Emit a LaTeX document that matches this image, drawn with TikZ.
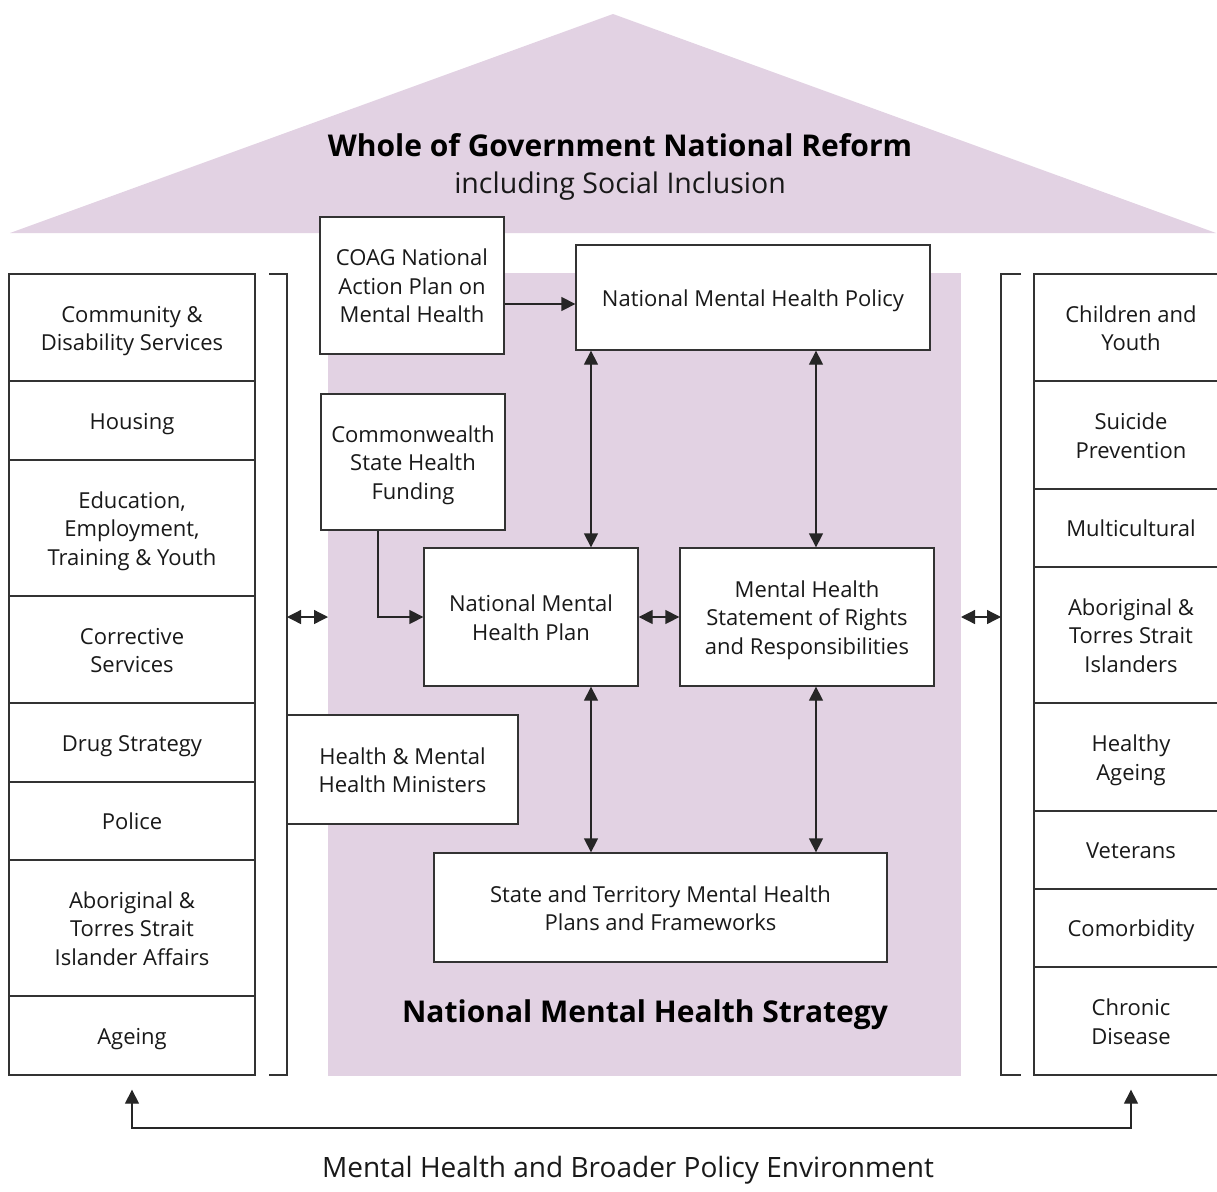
\documentclass[tikz,border=0pt]{standalone}
\usepackage{fontspec}
\setmainfont{Open Sans}
\usetikzlibrary{arrows.meta}
\definecolor{lilac}{HTML}{E2D2E3}
\definecolor{edge}{HTML}{333333}
\newcommand\ls{\leavevmode\vrule height 23.1pt depth 5.4pt width 0pt\relax}
\tikzset{
  bx/.style={draw=edge, fill=white, line width=1.3pt, inner sep=0pt, align=center,
    font=\fontsize{22}{28.5}\selectfont, text=black!90},
  con/.style={line width=1.3pt, draw=black!85},
  tip/.style={-{Triangle[length=14pt,width=14pt]}},
  dtip/.style={{Triangle[length=14pt,width=14pt]}-{Triangle[length=14pt,width=14pt]}},
}
\begin{document}
\begin{tikzpicture}[x=1pt,y=-1pt]
\useasboundingbox (0,0) rectangle (1217,1191);
\clip (0,0) rectangle (1217,1191);
% roof and strategy background
\fill[lilac] (10,233) -- (613,14) -- (1216,233) -- cycle;
\fill[lilac] (328,273) rectangle (961,1076);
\node[font=\fontsize{30}{34}\selectfont\bfseries] (title) at (620,145) {Whole of Government National Reform};
\node[font=\fontsize{28.5}{34}\selectfont, text=black!90] (subtitle) at (620,186) {including Social Inclusion};
\node[font=\fontsize{30}{34}\selectfont\bfseries] (strategy) at (645,1015) {National Mental Health Strategy};
\node[font=\fontsize{28}{34}\selectfont, text=black!90] (env) at (628,1170) {Mental Health and Broader Policy Environment};
% left column
\node[bx, minimum width=246pt, minimum height=107pt] (L1) at (132,327.5) {\ls Community \&\\\ls Disability Services};
\node[bx, minimum width=246pt, minimum height=79pt] (L2) at (132,420.5) {\ls Housing};
\node[bx, minimum width=246pt, minimum height=136pt] (L3) at (132,528) {\ls Education,\\\ls Employment,\\\ls Training \& Youth};
\node[bx, minimum width=246pt, minimum height=107pt] (L4) at (132,649.5) {\ls Corrective\\\ls Services};
\node[bx, minimum width=246pt, minimum height=79pt] (L5) at (132,742.5) {\ls Drug Strategy};
\node[bx, minimum width=246pt, minimum height=78pt] (L6) at (132,821) {\ls Police};
\node[bx, minimum width=246pt, minimum height=136pt] (L7) at (132,928) {\ls Aboriginal \&\\\ls Torres Strait\\\ls Islander Affairs};
\node[bx, minimum width=246pt, minimum height=79pt] (L8) at (132,1035.5) {\ls Ageing};
% right column
\node[bx, minimum width=194pt, minimum height=107pt] (R1) at (1131,327.5) {\ls Children and\\\ls Youth};
\node[bx, minimum width=194pt, minimum height=108pt] (R2) at (1131,435) {\ls Suicide\\\ls Prevention};
\node[bx, minimum width=194pt, minimum height=78pt] (R3) at (1131,528) {\ls Multicultural};
\node[bx, minimum width=194pt, minimum height=136pt] (R4) at (1131,635) {\ls Aboriginal \&\\\ls Torres Strait\\\ls Islanders};
\node[bx, minimum width=194pt, minimum height=108pt] (R5) at (1131,757) {\ls Healthy\\\ls Ageing};
\node[bx, minimum width=194pt, minimum height=78pt] (R6) at (1131,850) {\ls Veterans};
\node[bx, minimum width=194pt, minimum height=78pt] (R7) at (1131,928) {\ls Comorbidity};
\node[bx, minimum width=194pt, minimum height=108pt] (R8) at (1131,1021) {\ls Chronic\\\ls Disease};
% brackets
\coordinate (lbt) at (287,274);
\coordinate (lbb) at (287,1075);
\coordinate (rbt) at (1001,274);
\coordinate (rbb) at (1001,1075);
\draw[con, draw=edge] ([xshift=-18pt]lbt) -- (lbt) -- (lbb) -- ([xshift=-18pt]lbb);
\draw[con, draw=edge] ([xshift=20pt]rbt) -- (rbt) -- (rbb) -- ([xshift=20pt]rbb);
% centre boxes
\node[bx, minimum width=184pt, minimum height=137pt] (coag) at (412,285.5) {\ls COAG National\\\ls Action Plan on\\\ls Mental Health};
\node[bx, minimum width=354pt, minimum height=105pt] (policy) at (753,297.5) {\ls National Mental Health Policy};
\node[bx, minimum width=184pt, minimum height=136pt] (cshf) at (413,462) {\ls Commonwealth\\\ls State Health\\\ls Funding};
\node[bx, minimum width=214pt, minimum height=138pt] (nmhp) at (531,617) {\ls National Mental\\\ls Health Plan};
\node[bx, minimum width=254pt, minimum height=138pt] (rights) at (807,617) {\ls Mental Health\\\ls Statement of Rights\\\ls and Responsibilities};
\node[bx, minimum width=231pt, minimum height=109pt] (min) at (402.5,769.5) {\ls Health \& Mental\\\ls Health Ministers};
\node[bx, minimum width=453pt, minimum height=109pt] (state) at (660.5,907.5) {\ls State and Territory Mental Health\\\ls Plans and Frameworks};
% connectors
\coordinate (xa) at (591,0);
\coordinate (xb) at (816,0);
\draw[con, tip] (coag.east |- 0,304) -- (policy.west |- 0,304);
\draw[con, tip] (cshf.south -| 378,0) |- (nmhp.west);
\draw[con, dtip] (policy.south -| xa) -- (nmhp.north -| xa);
\draw[con, dtip] (policy.south -| xb) -- (rights.north -| xb);
\draw[con, dtip] (nmhp.east) -- (rights.west);
\draw[con, dtip] (nmhp.south -| xa) -- (state.north -| xa);
\draw[con, dtip] (rights.south -| xb) -- (state.north -| xb);
\draw[con, dtip] (lbt |- nmhp.west) -- (328,617);
\draw[con, dtip] (961,617) -- (rbt |- nmhp.west);
\draw[con, dtip, shorten <=14pt, shorten >=14pt] (L8.south) -- (L8.south |- 0,1128) -- (R8.south |- 0,1128) -- (R8.south);
\end{tikzpicture}
\end{document}
